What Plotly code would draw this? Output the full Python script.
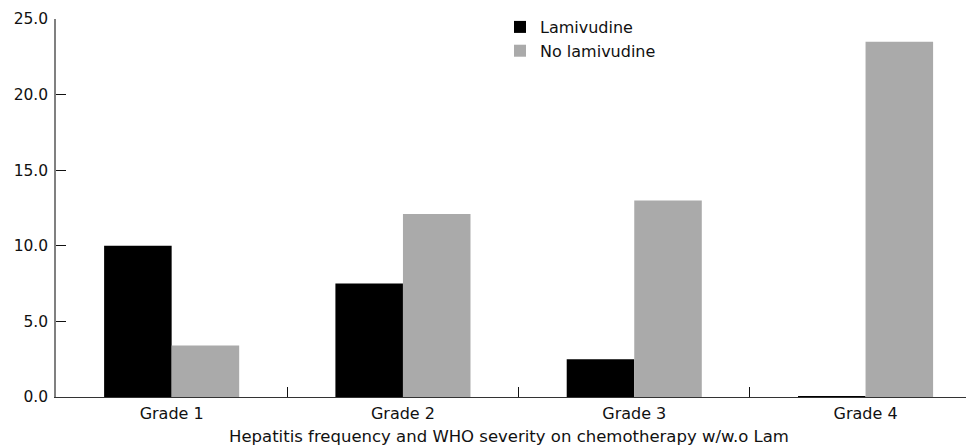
import plotly.graph_objects as go

categories = ["Grade 1", "Grade 2", "Grade 3", "Grade 4"]
lamivudine = [10.0, 7.5, 2.5, 0.05]
no_lamivudine = [3.4, 12.1, 13.0, 23.5]
y_ticks = [0, 5, 10, 15, 20, 25]
x_title = "Hepatitis frequency and WHO severity on chemotherapy w/w.o Lam"

FONT = "DejaVu Sans"

fig = go.Figure()
fig.add_trace(go.Bar(x=categories, y=lamivudine, name="Lamivudine",
                     marker=dict(color="#000000", line=dict(width=0)),
                     legendgroup="a"))
fig.add_trace(go.Bar(x=categories, y=no_lamivudine, name="No lamivudine",
                     marker=dict(color="#aaaaaa", line=dict(width=0)),
                     legendgroup="b"))

W, H = 966, 440
ml, mr, mt, mb = 48, 0, 10.5, 51
pw = W - ml - mr
ph = H - mt - mb
cat_w = 231.3
xmax = -0.5 + pw / cat_w

fig.update_layout(
    width=W, height=H,
    margin=dict(l=ml, r=mr, t=mt, b=mb, pad=0, autoexpand=False),
    paper_bgcolor="white", plot_bgcolor="white",
    barmode="group", bargap=0.416, bargroupgap=0,
    font=dict(family=FONT, size=15, color="#111111"),
    showlegend=True,
    legend=dict(x=(492 - ml) / pw, xanchor="left", y=1.0 + 9 / ph, yanchor="top",
                bgcolor="rgba(0,0,0,0)", font=dict(size=16, family=FONT),
                tracegroupgap=7, traceorder="normal"),
    xaxis=dict(
        type="category", range=[-0.5, xmax],
        showline=True, linecolor="#333333", linewidth=1,
        ticks="inside", tickson="boundaries", ticklen=10, tickcolor="#111111",
        tickwidth=1, showgrid=False, zeroline=False,
        tickfont=dict(size=16, family=FONT), ticklabelstandoff=2,
    ),
    yaxis=dict(
        range=[0, 25], tickvals=y_ticks, tickformat=".1f",
        showline=True, linecolor="#808080", linewidth=1.5,
        ticks="inside", ticklen=10, tickcolor="#111111", tickwidth=1,
        showgrid=False, zeroline=False,
        tickfont=dict(size=15.5, family=FONT), ticklabelstandoff=3,
    ),
    annotations=[dict(
        text=x_title, xref="paper", yref="paper",
        x=(500.5 - ml) / pw, y=-(429 - (H - mb)) / ph,
        xanchor="center", yanchor="middle", showarrow=False,
        font=dict(size=16.5, family=FONT, color="#111111"),
    )],
)

fig.write_html("out.html")
